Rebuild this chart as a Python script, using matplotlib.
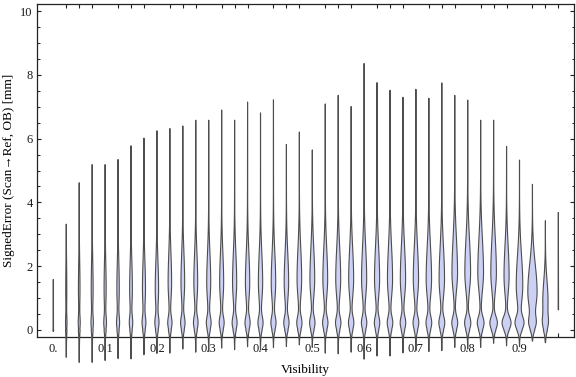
import numpy as np
import matplotlib.pyplot as plt
from matplotlib.ticker import FixedLocator, MultipleLocator

# violin positions (visibility bins)
visibility = [0.0, 0.025, 0.05, 0.075, 0.1, 0.125, 0.15, 0.175, 0.2, 0.225,
              0.25, 0.275, 0.3, 0.325, 0.35, 0.375, 0.4, 0.425, 0.45, 0.475,
              0.5, 0.525, 0.55, 0.575, 0.6, 0.625, 0.65, 0.675, 0.7, 0.725,
              0.75, 0.775, 0.8, 0.825, 0.85, 0.875, 0.9, 0.925, 0.95, 0.975]

# max / min signed error in each bin [mm]
err_max = [1.59, 3.32, 4.62, 5.19, 5.19, 5.35, 5.78, 6.02, 6.25, 6.32,
           6.40, 6.58, 6.58, 6.90, 6.58, 7.15, 6.81, 7.22, 5.82, 6.21,
           5.65, 7.09, 7.36, 7.01, 8.36, 7.76, 7.52, 7.30, 7.55, 7.27,
           7.75, 7.36, 7.21, 6.58, 6.58, 5.76, 5.33, 4.57, 3.43, 3.69]
err_min = [-0.05, -0.86, -1.02, -1.02, -0.96, -0.90, -0.91, -0.78, -0.74, -0.73,
           -0.60, -0.70, -0.68, -0.57, -0.62, -0.53, -0.63, -0.56, -0.52, -0.47,
           -0.55, -0.73, -0.75, -0.70, -0.92, -0.82, -0.82, -0.72, -0.65, -0.68,
           -0.65, -0.55, -0.60, -0.55, -0.42, -0.50, -0.52, -0.35, -0.40, 0.63]

# density of the low peak (near 0) and of the main body
bulb = [0.0, 0.6, 0.9, 1.1, 1.3, 1.5, 1.7, 1.9, 2.1, 2.3,
        2.4, 2.5, 2.6, 2.7, 2.7, 2.8, 2.8, 2.8, 2.9, 2.9,
        3.0, 3.0, 3.0, 3.0, 3.0, 3.0, 3.1, 3.1, 3.2, 3.2,
        3.3, 3.4, 3.6, 3.9, 4.4, 5.3, 5.0, 3.4, 2.1, 0.0]
body = [0.0, 0.5, 0.8, 1.0, 1.1, 1.3, 1.5, 1.7, 1.9, 2.0,
        2.1, 2.2, 2.3, 2.3, 2.4, 2.5, 2.5, 2.6, 2.6, 2.7,
        2.8, 2.8, 2.9, 2.9, 3.0, 3.0, 3.0, 3.1, 3.1, 3.2,
        3.2, 3.3, 3.4, 3.4, 3.3, 3.0, 3.9, 5.6, 3.1, 0.0]
body_mid = [1.3, 1.3, 1.3, 1.3, 1.3, 1.3, 1.3, 1.3, 1.3, 1.5,
            1.5, 1.5, 1.5, 1.5, 1.5, 1.5, 1.5, 1.5, 1.5, 1.6,
            1.6, 1.6, 1.6, 1.6, 1.6, 1.6, 1.6, 1.6, 1.6, 1.6,
            1.6, 1.8, 1.8, 1.8, 1.8, 1.7, 1.4, 1.2, 0.9, 1.0]
body_spread = [0.85, 0.85, 0.85, 0.85, 0.85, 0.85, 0.85, 0.85, 0.85, 0.9,
               0.9, 0.9, 0.9, 0.9, 0.9, 0.9, 0.9, 0.9, 0.9, 0.95,
               0.95, 0.95, 0.95, 0.95, 1.0, 1.0, 1.0, 1.0, 1.0, 1.0,
               1.0, 1.05, 1.05, 1.05, 1.05, 0.95, 0.95, 0.85, 0.65, 0.6]

x_ticks = [0.0, 0.1, 0.2, 0.3, 0.4, 0.5, 0.6, 0.7, 0.8, 0.9]
x_labels = ["0.", "0.1", "0.2", "0.3", "0.4", "0.5", "0.6", "0.7", "0.8", "0.9"]
y_ticks = [0, 2, 4, 6, 8, 10]

plt.rcParams['font.family'] = ['Liberation Serif', 'DejaVu Serif']

WSCALE = 0.8 * 0.1 / 51.8  # density unit -> data units


def violin_outline(x0, top, bot, b, s, mid, spread, n=400):
    y = np.linspace(bot, top, n)
    hi = np.where(y < mid, 0.55, spread)
    w = b * np.exp(-0.5 * ((y - 0.22) / 0.2) ** 2) + s * np.exp(-0.5 * ((y - mid) / hi) ** 2)
    if bot < 0:
        tail = np.where(y < 0, 0.6 * (y - bot) / (0 - bot), 0.25 * (top - y) / top)
    else:
        tail = 0.25 * (top - y) / (top - bot)
    w = (w + tail) * WSCALE
    xs = np.concatenate([x0 - w, (x0 + w)[::-1]])
    ys = np.concatenate([y, y[::-1]])
    return xs, ys


fig = plt.figure(figsize=(5.76, 3.77), dpi=100)
ax = fig.add_axes([37 / 576, 40 / 377, 537 / 576, 333 / 377])

for i in range(len(visibility)):
    xs, ys = violin_outline(visibility[i], err_max[i], err_min[i], bulb[i], body[i],
                            body_mid[i], body_spread[i])
    ax.fill(xs, ys, facecolor='#cbd0f4', edgecolor='#4d4d4d', lw=0.8,
            clip_on=False, zorder=3)

ax.set_xlim(-0.0315, 1.0052)
ax.set_ylim(-0.22, 10.22)

ax.xaxis.set_major_locator(FixedLocator(x_ticks))
ax.set_xticklabels(x_labels)
ax.xaxis.set_minor_locator(FixedLocator(visibility))
ax.yaxis.set_major_locator(FixedLocator(y_ticks))
ax.yaxis.set_minor_locator(MultipleLocator(0.5))

ax.tick_params(which='both', direction='in', top=True, right=True,
               labelsize=9, color='#222222', labelcolor='#1a1a1a')
ax.tick_params(axis='x', which='major', length=0, pad=4)
ax.tick_params(axis='x', which='minor', length=3, width=0.8)
ax.tick_params(axis='y', which='major', length=3.2, width=0.8, pad=3)
ax.tick_params(axis='y', which='minor', length=1.8, width=0.7)

for sp in ax.spines.values():
    sp.set_linewidth(0.9)
    sp.set_color('#222222')

ax.set_xlabel('Visibility', fontsize=9.5, labelpad=7)
ax.set_ylabel('SignedError (Scan\u2192Ref, OB) [mm]', fontsize=9.5, labelpad=4)

fig.savefig('out.png', dpi=100)
